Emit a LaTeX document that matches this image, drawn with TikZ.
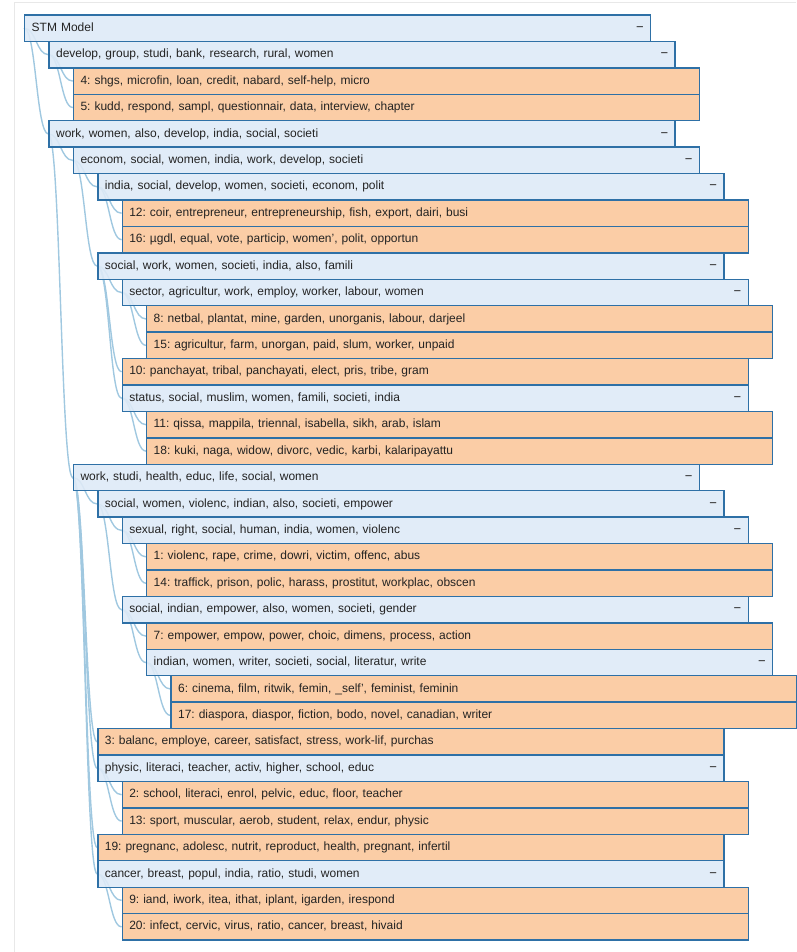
\documentclass[tikz,border=0pt]{standalone}
\usepackage{fontspec}
\setmainfont{Liberation Sans}
\usetikzlibrary{backgrounds,calc}
\frenchspacing
\definecolor{bluefill}{RGB}{222,234,247}
\definecolor{orangefill}{RGB}{251,200,156}
\definecolor{boxline}{RGB}{46,112,166}
\definecolor{linkcol}{RGB}{160,200,224}
\definecolor{txt}{RGB}{35,35,35}
\definecolor{frame}{RGB}{232,232,232}
\newcommand\trow[5]{\node[#4] (#1) at ({24+24.4*#2},{-(15+(#3-0.5)*26.43)}) {#5};}
\newcommand\tlink[2]{\draw[linkstyle] let \p1=(#1.west), \p2=(#2.west) in (\p1) .. controls ({(\x1+\x2)/2},\y1) and ({(\x1+\x2)/2},\y2) .. (\p2);}
\begin{document}
\begin{tikzpicture}[x=1pt,y=1pt,
  rowbase/.style={draw=boxline, line width=1.4pt, anchor=west, rectangle,
    minimum height=26.43pt, inner ysep=0pt, inner xsep=7pt, text width=612pt,
    align=left, font=\fontsize{12}{14}\selectfont, text=txt,
    fill opacity=0.9, text opacity=1, text height=8.8pt, text depth=2.6pt},
  inner/.style={rowbase, fill=bluefill},
  leaf/.style={rowbase, fill=orangefill},
  linkstyle/.style={draw=linkcol, line width=1.4pt}]
\useasboundingbox (0,0) rectangle (796,-952);
\newcommand\mn{\hskip 0pt plus 1fill {\fontsize{13}{14}\selectfont −}}
\trow{r1}{0}{1}{inner}{STM Model\mn}
\trow{r2}{1}{2}{inner}{develop, group, studi, bank, research, rural, women\mn}
\trow{r3}{2}{3}{leaf}{4: shgs, microfin, loan, credit, nabard, self-help, micro}
\trow{r4}{2}{4}{leaf}{5: kudd, respond, sampl, questionnair, data, interview, chapter}
\trow{r5}{1}{5}{inner}{work, women, also, develop, india, social, societi\mn}
\trow{r6}{2}{6}{inner}{econom, social, women, india, work, develop, societi\mn}
\trow{r7}{3}{7}{inner}{india, social, develop, women, societi, econom, polit\mn}
\trow{r8}{4}{8}{leaf}{12: coir, entrepreneur, entrepreneurship, fish, export, dairi, busi}
\trow{r9}{4}{9}{leaf}{16: µgdl, equal, vote, particip, women’, polit, opportun}
\trow{r10}{3}{10}{inner}{social, work, women, societi, india, also, famili\mn}
\trow{r11}{4}{11}{inner}{sector, agricultur, work, employ, worker, labour, women\mn}
\trow{r12}{5}{12}{leaf}{8: netbal, plantat, mine, garden, unorganis, labour, darjeel}
\trow{r13}{5}{13}{leaf}{15: agricultur, farm, unorgan, paid, slum, worker, unpaid}
\trow{r14}{4}{14}{leaf}{10: panchayat, tribal, panchayati, elect, pris, tribe, gram}
\trow{r15}{4}{15}{inner}{status, social, muslim, women, famili, societi, india\mn}
\trow{r16}{5}{16}{leaf}{11: qissa, mappila, triennal, isabella, sikh, arab, islam}
\trow{r17}{5}{17}{leaf}{18: kuki, naga, widow, divorc, vedic, karbi, kalaripayattu}
\trow{r18}{2}{18}{inner}{work, studi, health, educ, life, social, women\mn}
\trow{r19}{3}{19}{inner}{social, women, violenc, indian, also, societi, empower\mn}
\trow{r20}{4}{20}{inner}{sexual, right, social, human, india, women, violenc\mn}
\trow{r21}{5}{21}{leaf}{1: violenc, rape, crime, dowri, victim, offenc, abus}
\trow{r22}{5}{22}{leaf}{14: traffick, prison, polic, harass, prostitut, workplac, obscen}
\trow{r23}{4}{23}{inner}{social, indian, empower, also, women, societi, gender\mn}
\trow{r24}{5}{24}{leaf}{7: empower, empow, power, choic, dimens, process, action}
\trow{r25}{5}{25}{inner}{indian, women, writer, societi, social, literatur, write\mn}
\trow{r26}{6}{26}{leaf}{6: cinema, film, ritwik, femin, \_self’, feminist, feminin}
\trow{r27}{6}{27}{leaf}{17: diaspora, diaspor, fiction, bodo, novel, canadian, writer}
\trow{r28}{3}{28}{leaf}{3: balanc, employe, career, satisfact, stress, work-lif, purchas}
\trow{r29}{3}{29}{inner}{physic, literaci, teacher, activ, higher, school, educ\mn}
\trow{r30}{4}{30}{leaf}{2: school, literaci, enrol, pelvic, educ, floor, teacher}
\trow{r31}{4}{31}{leaf}{13: sport, muscular, aerob, student, relax, endur, physic}
\trow{r32}{3}{32}{leaf}{19: pregnanc, adolesc, nutrit, reproduct, health, pregnant, infertil}
\trow{r33}{3}{33}{inner}{cancer, breast, popul, india, ratio, studi, women\mn}
\trow{r34}{4}{34}{leaf}{9: iand, iwork, itea, ithat, iplant, igarden, irespond}
\trow{r35}{4}{35}{leaf}{20: infect, cervic, virus, ratio, cancer, breast, hivaid}
\begin{pgfonlayer}{background}
\draw[frame, line width=1pt] (14,-952) coordinate (fb) -- (14,-3) coordinate (fc) -- (796,-3) coordinate (fd);
\tlink{r1}{r2}\tlink{r1}{r5}
\tlink{r2}{r3}\tlink{r2}{r4}
\tlink{r5}{r6}\tlink{r5}{r18}
\tlink{r6}{r7}\tlink{r6}{r10}
\tlink{r7}{r8}\tlink{r7}{r9}
\tlink{r10}{r11}\tlink{r10}{r14}\tlink{r10}{r15}
\tlink{r11}{r12}\tlink{r11}{r13}
\tlink{r15}{r16}\tlink{r15}{r17}
\tlink{r18}{r19}\tlink{r18}{r28}\tlink{r18}{r29}\tlink{r18}{r32}\tlink{r18}{r33}
\tlink{r19}{r20}\tlink{r19}{r23}
\tlink{r20}{r21}\tlink{r20}{r22}
\tlink{r23}{r24}\tlink{r23}{r25}
\tlink{r25}{r26}\tlink{r25}{r27}
\tlink{r29}{r30}\tlink{r29}{r31}
\tlink{r33}{r34}\tlink{r33}{r35}
\end{pgfonlayer}
\end{tikzpicture}
\end{document}
